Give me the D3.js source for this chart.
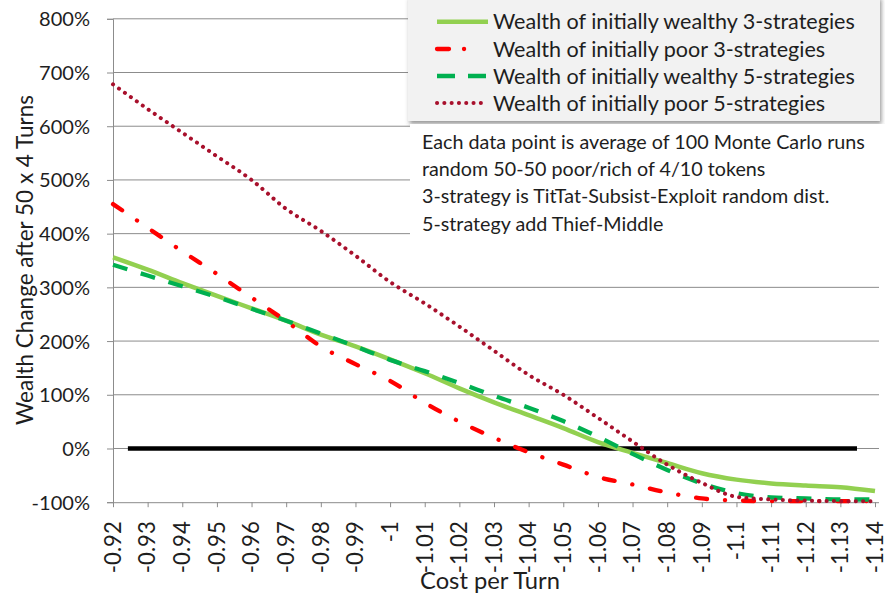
<!DOCTYPE html>
<html><head><meta charset="utf-8">
<script src="https://cdn.jsdelivr.net/npm/d3@7"></script>
<style>html,body{margin:0;padding:0;background:#fff;} svg{display:block;font-family:Lato,"Open Sans",sans-serif;}</style>
</head><body><svg id="c" width="885" height="597"></svg>
<script>
// ---- data ----
const categories = ["-0.92","-0.93","-0.94","-0.95","-0.96","-0.97","-0.98","-0.99","-1","-1.01","-1.02","-1.03","-1.04","-1.05","-1.06","-1.07","-1.08","-1.09","-1.1","-1.11","-1.12","-1.13","-1.14"];
const wealthy3 = [356,333,308,284,261,238,212,190,166,140,112,86,62,38,12,-8,-27,-46,-58,-65,-69,-72,-79];
const poor3    = [455,411,367,325,281,237,190,157,126,85,50,20,-7,-30,-53,-67,-82,-93,-97,-98,-98,-98,-98];
const wealthy5 = [342,322,302,282,260,238,214,190,165,144,122,98,76,51,22,-10,-40,-65,-83,-91,-93,-95,-95];
const poor5    = [678,632,588,544,500,446,405,359,310,270,227,182,137,100,57,13,-30,-64,-90,-95,-97,-98,-98];
const yTicks = [-100,0,100,200,300,400,500,600,700,800];
const zeroLineSpan = [-0.9243, -1.1348];
const seriesNames = ["Wealth of initially wealthy 3-strategies","Wealth of initially poor 3-strategies","Wealth of initially wealthy 5-strategies","Wealth of initially poor 5-strategies"];
const noteLines = ["Each data point is average of 100 Monte Carlo runs","random 50-50 poor/rich of 4/10 tokens","3-strategy is TitTat-Subsist-Exploit random dist.","5-strategy add Thief-Middle"];
const xTitle = "Cost per Turn";
const yTitle = "Wealth Change after 50 x 4 Turns";

// ---- layout ----
const svg = d3.select("#c");
const L = 113, R = 875, T = 18.8, B = 502.2, gridRight = 879;
const x = d3.scaleLinear().domain([-0.92, -1.14]).range([L, R]);
const y = d3.scaleLinear().domain([-100, 800]).range([B, T]);
const txt = "#1e1e1e", gridC = "#8c8c8c";

function fit(sel, target) {
  const w = sel.node().getComputedTextLength();
  const fs = parseFloat(sel.attr("font-size"));
  return fs * target / w;
}

const defs = svg.append("defs");
const f = defs.append("filter").attr("id","sh").attr("x","-5%").attr("y","-10%").attr("width","115%").attr("height","130%");
f.append("feDropShadow").attr("dx",1.5).attr("dy",3).attr("stdDeviation",2).attr("flood-color","#444").attr("flood-opacity",0.55);

// gridlines
svg.append("g").selectAll("line").data(yTicks.filter(d => d > -100)).join("line")
  .attr("x1", L).attr("x2", gridRight).attr("y1", d => y(d)).attr("y2", d => y(d))
  .attr("stroke", gridC).attr("stroke-width", 1);

// y axis
const yAxis = d3.axisLeft(y).tickValues(yTicks).tickSize(6).tickFormat(d => d + "%");
const gy = svg.append("g").attr("transform", `translate(${L},0)`).call(yAxis);
gy.select(".domain").attr("stroke", gridC);
gy.selectAll(".tick line").attr("stroke", gridC);
gy.selectAll(".tick text").attr("fill", txt).attr("font-size", 19).attr("font-family","Lato").attr("x", -23).attr("dy","0.35em");
const yfs = fit(gy.selectAll(".tick text").filter(d => d === 800), 51);
gy.selectAll(".tick text").attr("font-size", yfs);

// x axis
const xAxis = d3.axisBottom(x).tickValues(categories.map(Number)).tickSize(5).tickFormat((d,i) => categories[i]);
const gx = svg.append("g").attr("transform", `translate(0,${B})`).call(xAxis);
gx.select(".domain").attr("stroke", gridC).attr("d", `M${L},0.5H${gridRight}`);
gx.selectAll(".tick line").attr("stroke", gridC);
gx.selectAll(".tick text").attr("fill", txt).attr("font-size", 19).attr("font-family","Lato")
  .attr("text-anchor","end").attr("transform","translate(0,19) rotate(-90)").attr("x",0).attr("y",0).attr("dy","0.33em");
const xfs = fit(gx.selectAll(".tick text").filter((d,i) => i === 0), 52);
gx.selectAll(".tick text").attr("font-size", xfs);

// zero line
svg.append("line").attr("x1", x(zeroLineSpan[0])).attr("x2", x(zeroLineSpan[1]))
  .attr("y1", y(0)).attr("y2", y(0)).attr("stroke", "#000").attr("stroke-width", 4.5);

// series
const series = [
  {vals: wealthy3, color: "#92D050", w: 4.5, dash: null, cap: "butt", ldash: null},
  {vals: poor3, color: "#FF0000", w: 4.3, dash: "11 18 0.1 18", cap: "round", ldash: "12 15 0.1 40"},
  {vals: wealthy5, color: "#00B050", w: 4.3, dash: "15 14", cap: "butt", ldash: "18 13"},
  {vals: poor5, color: "#A8102C", w: 4, dash: "0.1 7.2", cap: "round", ldash: "0.1 7.2"}
];
const line = d3.line().x((d,i) => x(+categories[i])).y(d => y(d)).curve(d3.curveMonotoneX);
series.forEach(s => {
  svg.append("path").datum(s.vals).attr("d", line).attr("fill","none")
    .attr("stroke", s.color).attr("stroke-width", s.w).attr("stroke-linecap", s.cap)
    .attr("stroke-linejoin","round").attr("stroke-dasharray", s.dash);
});

// legend
const lg = svg.append("g");
lg.append("rect").attr("x", 408).attr("y", -4).attr("width", 472).attr("height", 125)
  .attr("fill", "#f2f2f2").attr("filter","url(#sh)");
const rows = [21.7, 49, 76, 103];
series.forEach((s, i) => {
  lg.append("line").attr("x1", 437).attr("x2", 488).attr("y1", rows[i]).attr("y2", rows[i])
    .attr("stroke", s.color).attr("stroke-width", s.w).attr("stroke-linecap", s.cap)
    .attr("stroke-dasharray", s.ldash);
});
const lt = lg.selectAll("text.lg").data(seriesNames).join("text").attr("class","lg")
  .attr("x", 493).attr("y", (d,i) => rows[i]).attr("dy","0.36em")
  .attr("font-size", 20).attr("fill", txt).text(d => d);
const lfs = fit(lt.filter((d,i) => i === 0), 362);
lt.attr("font-size", lfs);

// note box
const nb = svg.append("g");
nb.append("rect").attr("x", 410).attr("y", 124).attr("width", 475).attr("height", 118).attr("fill", "#fff");
const nt = nb.selectAll("text").data(noteLines).join("text")
  .attr("x", 422).attr("y", (d,i) => 149 + i * 27.2)
  .attr("font-size", 18).attr("fill", txt).text(d => d);
const nfs = fit(nt.filter((d,i) => i === 0), 443);
nt.attr("font-size", nfs);

// axis titles
const xt = svg.append("text").attr("x", 490).attr("y", 589).attr("text-anchor","middle")
  .attr("font-size", 22).attr("fill", txt).text(xTitle);
xt.attr("font-size", fit(xt, 140));
const yt = svg.append("text").attr("transform","translate(33,260) rotate(-90)").attr("text-anchor","middle")
  .attr("font-size", 22).attr("fill", txt).text(yTitle);
yt.attr("font-size", fit(yt, 330));
</script></body></html>
